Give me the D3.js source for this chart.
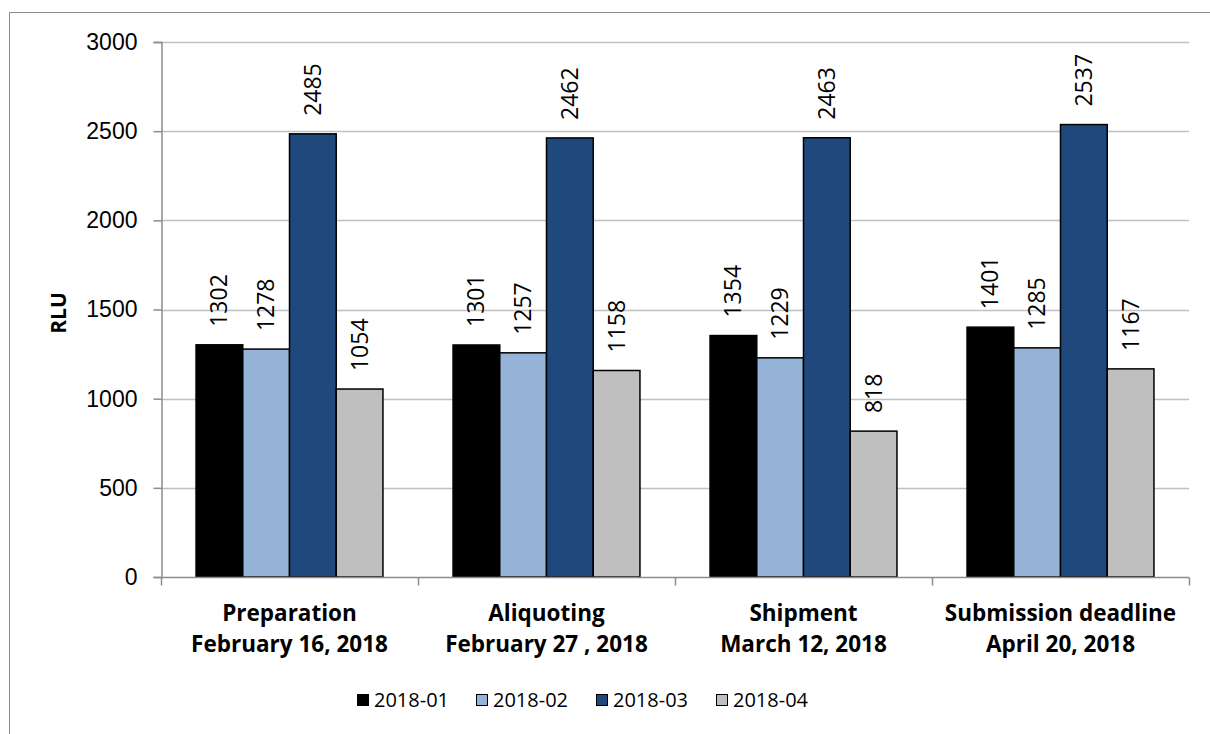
<!DOCTYPE html>
<html>
<head>
<meta charset="utf-8">
<script src="https://cdn.jsdelivr.net/npm/d3@7"></script>
<style>
  body { margin: 0; background: #fff; }
  svg { display: block; font-family: "Open Sans", "Liberation Sans", sans-serif; }
</style>
</head>
<body>
<svg id="chart"></svg>
<script>
var width = 1210;
var height = 734;

var categories = [
  ["Preparation", "February 16, 2018"],
  ["Aliquoting", "February 27 , 2018"],
  ["Shipment", "March 12, 2018"],
  ["Submission deadline", "April 20, 2018"]
];
var seriesNames = ["2018-01", "2018-02", "2018-03", "2018-04"];
var seriesColors = ["#000000", "#95b3d7", "#1f497d", "#bfbfbf"];
var values = [
  [1302, 1301, 1354, 1401],
  [1278, 1257, 1229, 1285],
  [2485, 2462, 2463, 2537],
  [1054, 1158, 818, 1167]
];
var yTicks = [0, 500, 1000, 1500, 2000, 2500, 3000];

var margin = {left: 161, right: 21, top: 42, bottom: 157};

var svg = d3.select("#chart").attr("width", width).attr("height", height);

// outer chart border (runs off the right and bottom edges)
svg.append("rect")
  .attr("x", 9.5).attr("y", 12.5)
  .attr("width", 1300).attr("height", 800)
  .attr("fill", "none")
  .attr("stroke", "#8c8c8c")
  .attr("stroke-width", 1);

var x0 = d3.scaleBand()
  .domain(d3.range(categories.length))
  .range([margin.left, width - margin.right]);

// gap width 150%: bar = band / 5.5
var barW = x0.bandwidth() / 5.5;
function barX(c, s) {
  return x0(c) + barW * 0.75 + s * barW;
}

var y = d3.scaleLinear()
  .domain([0, 3000])
  .range([577, margin.top]);

// gridlines
svg.append("g")
  .selectAll("line")
  .data(yTicks.slice(1))
  .enter()
  .append("line")
  .attr("x1", margin.left).attr("x2", width - margin.right)
  .attr("y1", function(d) { return Math.round(y(d)) + 0.5; })
  .attr("y2", function(d) { return Math.round(y(d)) + 0.5; })
  .attr("stroke", "#c0c0c0")
  .attr("stroke-width", 1.5);

// y axis
var yAxis = svg.append("g")
  .attr("transform", "translate(" + (margin.left + 0.5) + ",0)")
  .call(d3.axisLeft(y).tickValues(yTicks).tickSize(8).tickPadding(16).tickFormat(d3.format("d")));
yAxis.select(".domain").attr("stroke", "#8c8c8c").attr("stroke-width", 1.5);
yAxis.selectAll(".tick line").attr("stroke", "#8c8c8c").attr("stroke-width", 1.5);
yAxis.selectAll(".tick text")
  .attr("fill", "#000")
  .style("font-size", "23px");

svg.append("text")
  .attr("transform", "translate(66,313) rotate(-90)")
  .attr("text-anchor", "middle")
  .style("font-size", "21px")
  .style("font-weight", "bold")
  .text("RLU");

// bars
var groups = svg.append("g").selectAll("g")
  .data(values)
  .enter()
  .append("g")
  .attr("fill", function(d, i) { return seriesColors[i]; });

groups.selectAll("rect")
  .data(function(d, s) { return d.map(function(v, c) { return {s: s, c: c, v: v}; }); })
  .enter()
  .append("rect")
  .attr("x", function(d) { return barX(d.c, d.s); })
  .attr("y", function(d) { return y(d.v); })
  .attr("width", barW)
  .attr("height", function(d) { return y(0) - y(d.v); })
  .attr("stroke", "#000")
  .attr("stroke-width", 1.5);

// value labels
groups.selectAll("text")
  .data(function(d, s) { return d.map(function(v, c) { return {s: s, c: c, v: v}; }); })
  .enter()
  .append("text")
  .attr("transform", function(d) {
    return "translate(" + (barX(d.c, d.s) + barW / 2 + 8) + "," + (y(d.v) - 18) + ") rotate(-90)";
  })
  .attr("fill", "#000")
  .style("font-size", "23px")
  .text(function(d) { return d.v; });

// x axis
var xAxisY = 577.5;
svg.append("line")
  .attr("x1", margin.left).attr("x2", width - margin.right)
  .attr("y1", xAxisY).attr("y2", xAxisY)
  .attr("stroke", "#8c8c8c").attr("stroke-width", 1.5);

svg.append("g").selectAll("line")
  .data(d3.range(categories.length + 1))
  .enter()
  .append("line")
  .attr("x1", function(d) { return margin.left + d * x0.bandwidth() + 0.5; })
  .attr("x2", function(d) { return margin.left + d * x0.bandwidth() + 0.5; })
  .attr("y1", xAxisY).attr("y2", xAxisY + 8)
  .attr("stroke", "#8c8c8c").attr("stroke-width", 1.5);

var catLabel = svg.append("g").selectAll("text")
  .data(categories)
  .enter()
  .append("text")
  .attr("text-anchor", "middle")
  .style("font-size", "22.5px")
  .style("font-weight", "bold");
catLabel.each(function(d, i) {
  var t = d3.select(this);
  d.forEach(function(line, j) {
    t.append("tspan")
      .attr("x", x0(i) + x0.bandwidth() / 2)
      .attr("y", 621 + j * 31)
      .text(line);
  });
});

// legend
var legendX = [357, 476, 596, 716];
var legend = svg.append("g").selectAll("g")
  .data(seriesNames)
  .enter()
  .append("g")
  .attr("transform", function(d, i) { return "translate(" + legendX[i] + ",694)"; });

legend.append("rect")
  .attr("x", 0.5).attr("y", 0.5)
  .attr("width", 11).attr("height", 11)
  .attr("fill", function(d, i) { return seriesColors[i]; })
  .attr("stroke", "#000")
  .attr("stroke-width", 1);

legend.append("text")
  .attr("x", 17).attr("y", 13)
  .style("font-size", "20px")
  .text(function(d) { return d; });
</script>
</body>
</html>
